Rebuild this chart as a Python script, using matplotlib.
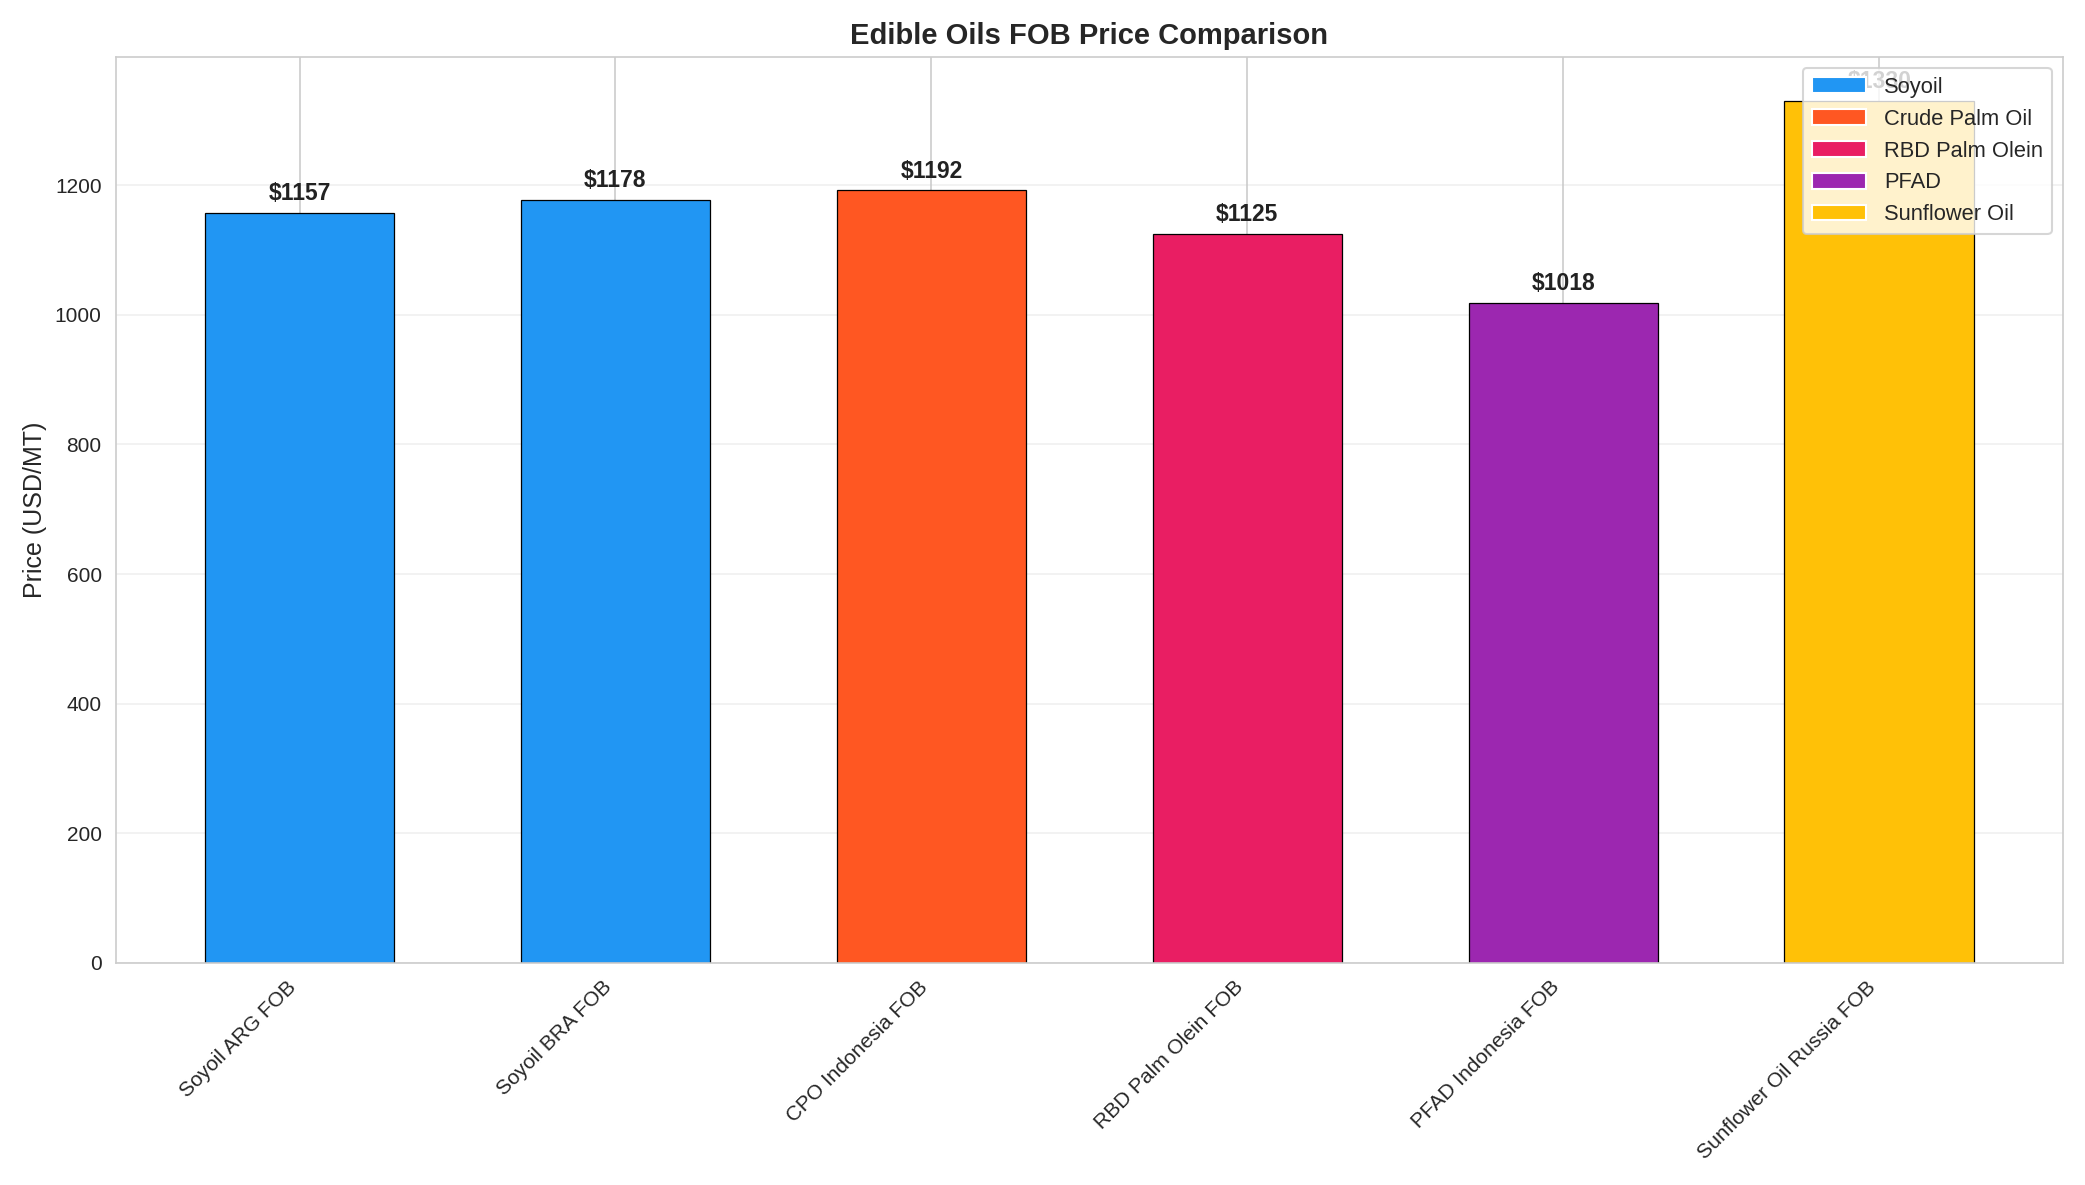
import matplotlib
matplotlib.use("Agg")
import matplotlib.pyplot as plt
import seaborn as sns
from matplotlib.patches import Patch

sns.set_style("whitegrid")
plt.rcParams['font.family'] = ['Arial', 'Liberation Sans', 'DejaVu Sans']

categories = ["Soyoil ARG FOB", "Soyoil BRA FOB", "CPO Indonesia FOB", "RBD Palm Olein FOB",
              "PFAD Indonesia FOB", "Sunflower Oil Russia FOB"]
prices = [1157, 1178, 1192, 1125, 1018, 1330]
groups = ["Soyoil", "Soyoil", "Crude Palm Oil", "RBD Palm Olein", "PFAD", "Sunflower Oil"]
legend_labels = ["Soyoil", "Crude Palm Oil", "RBD Palm Olein", "PFAD", "Sunflower Oil"]
legend_colors = ["#2196F3", "#FF5722", "#E91E63", "#9C27B0", "#FFC107"]
cmap = dict(zip(legend_labels, legend_colors))

fig, ax = plt.subplots(figsize=(13.9, 7.9), dpi=150)
x = range(len(categories))
bars = ax.bar(x, prices, width=0.6, color=[cmap[g] for g in groups], edgecolor="black", linewidth=0.6)
for xi, p in zip(x, prices):
    ax.text(xi, p + 12, f"${p}", ha="center", va="bottom", fontsize=11, fontweight="bold", color="#222222")
ax.set_xticks(list(x))
ax.set_xticklabels(categories, rotation=45, ha="right", fontsize=10)
ax.set_ylabel("Price (USD/MT)", fontsize=12)
ax.set_title("Edible Oils FOB Price Comparison", fontsize=14, fontweight="bold")
ax.set_ylim(0, 1398)
ax.grid(axis="y", alpha=0.3)
handles = [Patch(facecolor=c, edgecolor="white", label=l) for l, c in zip(legend_labels, legend_colors)]
ax.legend(handles=handles, loc="upper right", fontsize=10.5, handlelength=2.5)
fig.tight_layout()
fig.savefig("out.png", dpi=150)
